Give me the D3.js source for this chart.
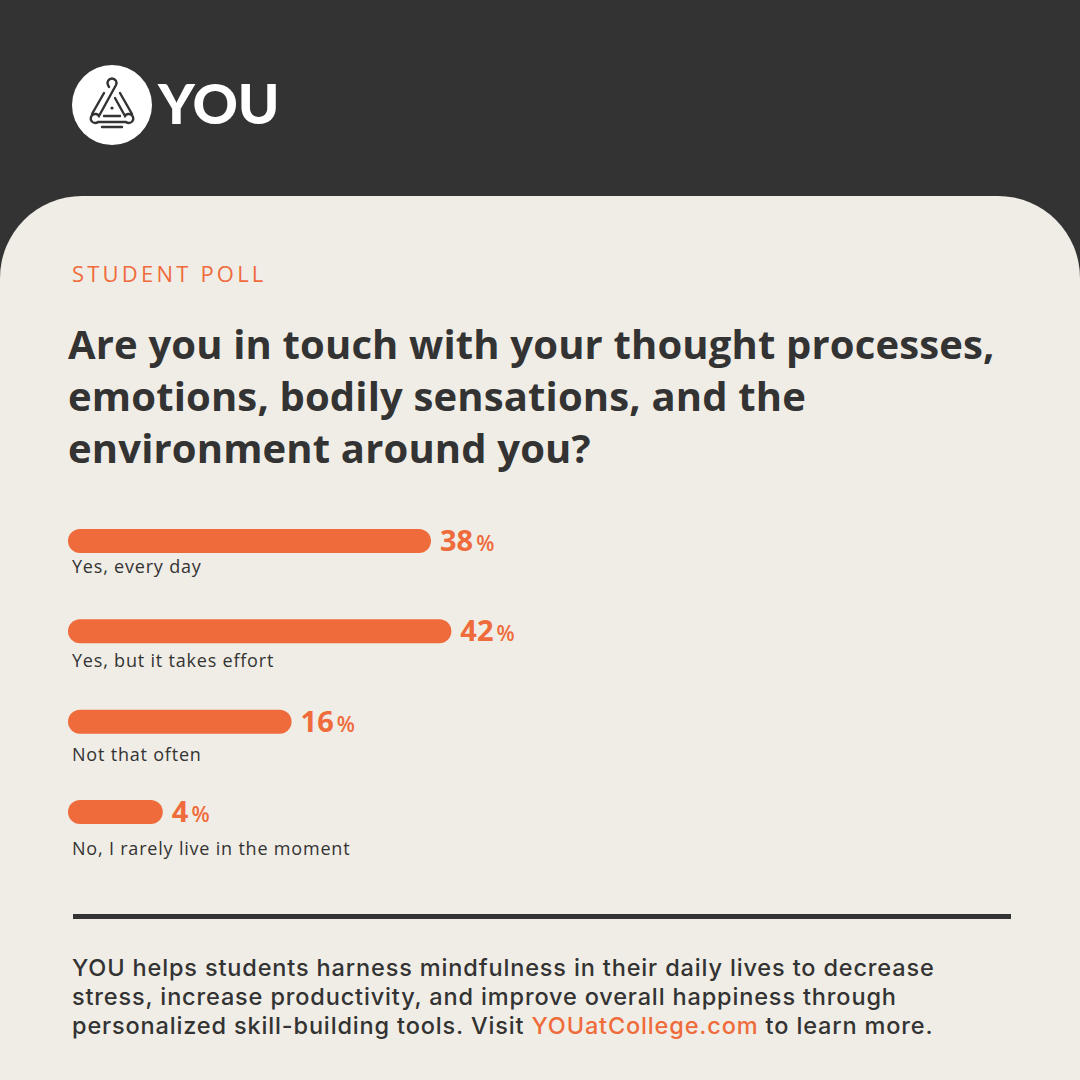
<!DOCTYPE html>
<html><head><meta charset="utf-8">
<script src="https://cdn.jsdelivr.net/npm/d3@7"></script>
<style>html,body{margin:0;padding:0;background:#333;}svg{display:block;}</style>
</head><body>
<svg id="c" width="1080" height="1080"></svg>
<script>
const categories = ["Yes, every day", "Yes, but it takes effort", "Not that often", "No, I rarely live in the moment"];
const values = [38, 42, 16, 4];
const kicker = "STUDENT POLL";
const titleLines = ["Are you in touch with your thought processes,", "emotions, bodily sensations, and the", "environment around you?"];
const footerLines = [
  [["YOU helps students harness mindfulness in their daily lives to decrease", false]],
  [["stress, increase productivity, and improve overall happiness through", false]],
  [["personalized skill-building tools. Visit ", false], ["YOUatCollege.com", true], [" to learn more.", false]]
];

const W = 1080, H = 1080;
const ORANGE = "#ef6b3b", DARK = "#333333", PANEL = "#f0ede6";
const FONT = "'Open Sans', Lato, sans-serif";
const svg = d3.select("#c");

// header
svg.append("rect").attr("width", W).attr("height", H).attr("fill", DARK);
const R = 82, panelTop = 196;
svg.append("path").attr("fill", PANEL)
  .attr("d", `M0,${panelTop+R} A${R},${R} 0 0 1 ${R},${panelTop} L${W-R},${panelTop} A${R},${R} 0 0 1 ${W},${panelTop+R} L${W},${H} L0,${H} Z`);

// logo
const logo = svg.append("g").attr("transform", "translate(112,105)");
logo.append("circle").attr("r", 40).attr("fill", "#fff");
const ic = logo.append("g").attr("fill", "none").attr("stroke", DARK).attr("stroke-width", 2.4).attr("stroke-linecap", "round");
ic.append("path").attr("d", "M-3,-18 L-4,-20 A4.5,4.5 0 1 1 4,-20 L-13,11 A4.5,4.5 0 1 0 -14,17 L14,17 A4.5,4.5 0 1 0 13,11 L3,-7");
ic.append("path").attr("d", "M-8,-12 L-20,9");
ic.append("path").attr("d", "M8,-12 L20,9");
ic.append("path").attr("d", "M-8,11 L8,11");
ic.append("path").attr("d", "M-10,22 L10,22");
logo.append("circle").attr("cx", 0).attr("cy", 3).attr("r", 1.6).attr("fill", DARK);
svg.append("text").attr("x", 158).attr("y", 124).attr("fill", "#fff")
  .attr("font-family", "Lato, sans-serif").attr("font-weight", 900).attr("font-size", 56).text("YOU");

// kicker
svg.append("text").attr("x", 72).attr("y", 282).attr("fill", ORANGE)
  .attr("font-family", FONT).attr("font-weight", 500).attr("font-size", 22).attr("letter-spacing", 3.2).text(kicker);

// title
svg.append("g").selectAll("text").data(titleLines).join("text")
  .attr("x", 68).attr("y", (d, i) => 359 + i * 52)
  .attr("fill", DARK).attr("font-family", FONT).attr("font-weight", 700).attr("font-size", 40)
  .attr("letter-spacing", 0.15).text(d => d);

// bars
const data = categories.map((c, i) => ({c, v: values[i]}));
const x = d3.scaleSqrt().domain([0, 100]).range([-34, 610]);
const yBar = d3.scalePoint().domain(categories).range([529, 800]);
const yLab = d3.scalePoint().domain(categories).range([573, 855]);
const bh = 24;
const g = svg.append("g");
g.selectAll("rect").data(data).join("rect")
  .attr("x", 68).attr("y", d => yBar(d.c))
  .attr("width", d => x(d.v)).attr("height", bh).attr("rx", bh / 2).attr("fill", ORANGE);
const pt = g.selectAll("text.pct").data(data).join("text").attr("class", "pct")
  .attr("x", d => 68 + x(d.v) + 9).attr("y", d => yBar(d.c) + 22)
  .attr("fill", ORANGE).attr("font-family", FONT).attr("font-weight", 700);
pt.append("tspan").attr("font-size", 29).text(d => d.v);
pt.append("tspan").attr("font-size", 21).attr("font-weight", 600).attr("dx", 3).text("%");
g.selectAll("text.lab").data(data).join("text").attr("class", "lab")
  .attr("x", 72).attr("y", d => yLab(d.c)).attr("fill", DARK)
  .attr("font-family", FONT).attr("font-weight", 500).attr("font-size", 18).attr("letter-spacing", 0.8).text(d => d.c);

// divider
svg.append("rect").attr("x", 73).attr("y", 914).attr("width", 938).attr("height", 5).attr("fill", DARK);

// footer
const ft = svg.append("g").selectAll("text").data(footerLines).join("text")
  .attr("x", 72).attr("y", (d, i) => 976 + i * 29)
  .attr("fill", DARK).attr("font-family", "Inter, 'Open Sans', sans-serif").attr("font-weight", 500)
  .attr("font-size", 23.5).attr("letter-spacing", 0.85);
ft.selectAll("tspan").data(d => d).join("tspan").attr("fill", d => d[1] ? ORANGE : DARK).text(d => d[0]);
</script>
</body></html>
